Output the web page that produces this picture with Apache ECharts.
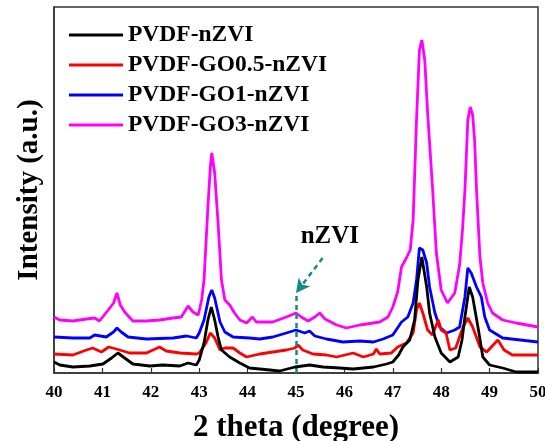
<!DOCTYPE html>
<html><head><meta charset="utf-8">
<script src="https://cdn.jsdelivr.net/npm/echarts@6/dist/echarts.min.js"></script>
<style>html,body{margin:0;padding:0;background:#fff}#c{width:545px;height:441px}</style>
</head><body><div id="c"></div>
<script>
// ---- data (intensity in arbitrary units) ----
const seriesNames = ['PVDF-nZVI','PVDF-GO0.5-nZVI','PVDF-GO1-nZVI','PVDF-GO3-nZVI'];
const seriesColors = ['#000000','#ff0000','#0000ff','#ff00ff'];

const blackTheta = [40.0,40.12,40.39,40.74,41.01,41.19,41.32,41.46,41.63,41.98,42.25,42.6,42.77,42.94,43.0,43.1,43.18,43.25,43.32,43.39,43.46,43.63,43.84,44.04,44.25,44.46,44.66,44.98,45.28,45.56,45.9,46.18,46.6,46.87,47.0,47.12,47.21,47.35,47.45,47.52,47.6,47.7,47.76,47.87,48.0,48.18,48.35,48.43,48.49,48.58,48.65,48.77,48.86,49.0,49.27,49.55,50];
const blackInt   = [11,8,6,7,9,15,20,15,9,7,8,7,10,8,13,30,53,66,53,36,23,16,10,5,4,3,2,6,8,6,5,4,6,9,11,18,26,33,53,93,116,86,60,36,20,11,16,33,56,86,76,43,16,8,5,1,1];

const redTheta = [40.0,40.39,40.67,40.8,40.98,41.13,41.29,41.56,41.91,42.18,42.32,42.6,42.94,43.0,43.14,43.23,43.32,43.43,43.53,43.7,43.84,43.98,44.25,44.52,44.8,44.98,45.04,45.14,45.35,45.63,45.84,46.18,46.39,46.6,46.66,46.73,46.97,47.1,47.28,47.42,47.49,47.55,47.62,47.72,47.82,47.94,48.0,48.1,48.18,48.3,48.45,48.55,48.65,48.8,48.94,49.17,49.3,49.47,50];
const redInt   = [19,18,23,25,21,26,24,20,20,26,22,20,19,20,30,40,35,23,25,25,20,16,19,21,23,25,28,23,19,18,16,20,16,19,24,19,20,26,30,40,63,70,60,43,38,53,43,40,23,25,46,55,46,26,21,33,23,18,18];

const blueTheta = [40.0,40.39,40.74,40.84,41.08,41.23,41.3,41.39,41.53,41.91,42.46,42.74,42.94,43.0,43.1,43.2,43.26,43.32,43.43,43.53,43.7,44.04,44.25,44.52,44.8,45.0,45.18,45.28,45.39,45.63,45.97,46.32,46.6,46.8,47.0,47.18,47.31,47.42,47.49,47.55,47.62,47.7,47.76,47.87,47.97,48.11,48.28,48.38,48.49,48.55,48.62,48.73,48.83,48.9,49.0,49.27,50];
const blueInt   = [36,35,35,38,36,41,45,41,36,34,35,37,35,40,53,76,83,75,51,41,36,35,34,36,40,43,40,42,37,34,31,32,31,34,38,51,56,70,93,125,123,110,86,60,46,40,43,46,76,105,100,86,76,56,43,35,31];

const magentaTheta = [40.0,40.12,40.39,40.67,40.84,40.94,41.12,41.23,41.3,41.37,41.46,41.63,41.91,42.18,42.46,42.63,42.77,42.87,42.98,43.05,43.1,43.18,43.23,43.26,43.32,43.39,43.46,43.53,43.63,43.73,43.84,43.98,44.1,44.18,44.52,44.8,45.0,45.11,45.25,45.39,45.49,45.6,45.84,46.04,46.32,46.73,46.9,47.0,47.1,47.18,47.28,47.36,47.42,47.49,47.55,47.6,47.66,47.72,47.82,47.9,48.0,48.13,48.28,48.38,48.44,48.49,48.55,48.6,48.65,48.69,48.73,48.8,48.86,48.96,49.06,49.27,49.55,50];
const magentaInt   = [56,53,52,54,55,52,63,70,80,68,61,52,52,53,55,56,67,61,58,73,93,166,206,220,200,150,93,73,68,60,53,50,56,51,51,56,60,56,52,56,60,54,48,45,48,51,56,66,81,106,115,123,153,253,323,333,313,260,186,120,83,70,80,108,143,183,253,266,258,233,183,116,90,70,60,53,50,46];

const xTicks = {min: 40, max: 50, step: 1};
const yRange = {min: 0, max: 366};

// annotation
const annotLabel = 'nZVI';
const annotTheta = 45;
const annotLineTop = 78;
const arrowStart = [45.55, 115];
const labelPos = [45.7, 136];

const thetaSets = [blackTheta, redTheta, blueTheta, magentaTheta];
const intSets = [blackInt, redInt, blueInt, magentaInt];

const FONT = "'Liberation Serif','Times New Roman',serif";
const teal = '#138a8a';

const series = seriesNames.map((n, i) => ({
  name: n, type: 'line', showSymbol: false, smooth: false,
  data: thetaSets[i].map((t, k) => [t, intSets[i][k]]),
  lineStyle: {color: seriesColors[i], width: 2.8},
  itemStyle: {color: seriesColors[i]},
  z: 2 + (3 - i)
}));

series.push({
  name: 'annot', type: 'line', data: [], silent: true,
  markLine: {
    silent: true, animation: false, symbol: ['none','none'],
    label: {show: false},
    lineStyle: {color: teal, width: 2.5, type: [5, 4]},
    data: [
      [{coord: [annotTheta, 0]}, {coord: [annotTheta, annotLineTop]}],
      [{coord: arrowStart, symbol: 'none'}, {coord: [annotTheta, annotLineTop + 2], symbol: 'arrow', symbolSize: [11, 14]}]
    ]
  },
  markPoint: {
    silent: true, symbol: 'circle', symbolSize: 0,
    label: {show: true, formatter: annotLabel, color: '#000', fontFamily: FONT, fontWeight: 'bold', fontSize: 25, position: 'inside'},
    data: [{coord: labelPos}]
  }
});

const chart = echarts.init(document.getElementById('c'), null, {renderer: 'canvas'});
chart.setOption({
  animation: false,
  backgroundColor: '#fff',
  grid: {left: 54, right: 7, top: 7, bottom: 68, containLabel: false, outerBoundsMode: 'none',
         show: true, borderColor: '#333', borderWidth: 1.5},
  legend: {
    data: seriesNames, orient: 'vertical', left: 64, top: 18,
    icon: 'rect', itemWidth: 54, itemHeight: 3, itemGap: 6,
    textStyle: {fontFamily: FONT, fontWeight: 'bold', fontSize: 23.5, color: '#000', lineHeight: 21}
  },
  xAxis: {
    type: 'value', min: xTicks.min, max: xTicks.max, interval: xTicks.step,
    name: '2 theta (degree)', nameLocation: 'middle', nameGap: 39,
    nameTextStyle: {fontFamily: FONT, fontWeight: 'bold', fontSize: 31, color: '#000'},
    axisLine: {lineStyle: {color: '#333', width: 1.5}},
    axisTick: {inside: true, length: 5, lineStyle: {color: '#333', width: 1.2}},
    axisLabel: {fontFamily: FONT, fontWeight: 'bold', fontSize: 17, color: '#000', margin: 11},
    splitLine: {show: false}
  },
  yAxis: {
    type: 'value', min: yRange.min, max: yRange.max,
    name: 'Intensity (a.u.)', nameLocation: 'middle', nameGap: 10, nameRotate: 90,
    nameTextStyle: {fontFamily: FONT, fontWeight: 'bold', fontSize: 29, color: '#000'},
    axisLine: {show: true, lineStyle: {color: '#333', width: 1.5}},
    axisTick: {show: false}, axisLabel: {show: false}, splitLine: {show: false}
  },
  series: series
});
</script>
</body></html>
